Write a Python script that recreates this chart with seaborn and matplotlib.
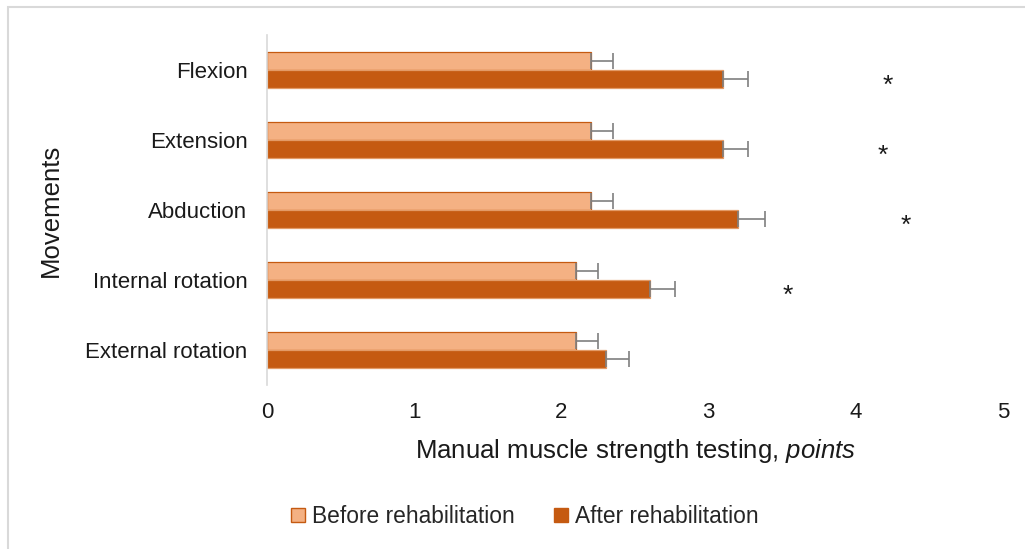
import numpy as np
import pandas as pd
import seaborn as sns
import matplotlib.pyplot as plt
from matplotlib.patches import Rectangle, Patch

# Movement categories and group labels
movements = ["Flexion", "Extension", "Abduction", "Internal rotation", "External rotation"]
groups = ["Before rehabilitation", "After rehabilitation"]

# Mean scores and standard deviations (points)
before_mean = [2.2, 2.2, 2.2, 2.1, 2.1]
before_sd = [0.15, 0.15, 0.15, 0.15, 0.15]
after_mean = [3.1, 3.1, 3.2, 2.6, 2.3]
after_sd = [0.17, 0.17, 0.18, 0.17, 0.16]

# Significance markers (x position in points, None = not significant)
star_x = [4.22, 4.18, 4.34, 3.54, None]

x_ticks = [0, 1, 2, 3, 4, 5]

sns.set_theme(style="white")
plt.rcParams["font.family"] = ["Liberation Sans", "DejaVu Sans"]
plt.rcParams["mathtext.fontset"] = "custom"
plt.rcParams["mathtext.rm"] = "Liberation Sans"
plt.rcParams["mathtext.it"] = "Liberation Sans:italic"

c_before = "#F4B183"
c_after = "#C55A11"
c_text = "#1a1a1a"

df = pd.DataFrame({
    "Movement": movements * 2,
    "Group": [groups[0]] * len(movements) + [groups[1]] * len(movements),
    "Score": before_mean + after_mean,
    "SD": before_sd + after_sd,
})

fig = plt.figure(figsize=(10.25, 5.49), dpi=100)
ax = fig.add_axes([0.2605, 0.2987, 0.718, 0.6375])

sns.barplot(data=df, y="Movement", x="Score", hue="Group", order=movements,
            hue_order=groups, palette=[c_before, c_after], orient="h",
            width=0.51, errorbar=None, ax=ax, legend=False, saturation=1)

# Outline styling and error bars, placed from the bar geometry
n = len(movements)
for i, bar in enumerate(ax.patches[:2 * n]):
    gi = i // n
    bar.set_edgecolor(c_after if gi == 0 else "#E39A66")
    bar.set_linewidth(0.9)
    yc = bar.get_y() + bar.get_height() / 2
    sd = df["SD"].iloc[i]
    ax.errorbar(bar.get_width(), yc, xerr=[[0], [sd]], fmt="none",
                ecolor="#7f7f7f", elinewidth=1.2, capsize=6, capthick=1.2)

# Significance asterisks beside the after-rehabilitation bars
for k, sx in enumerate(star_x):
    if sx is not None:
        ax.text(sx, k + 0.22, "*", ha="center", va="center", fontsize=19, color=c_text)

ax.set_xlim(0, 5)
ax.set_ylim(n - 0.5, -0.5)
ax.set_xticks(x_ticks)
ax.set_xticklabels([str(t) for t in x_ticks])
ax.tick_params(axis="both", length=0, labelsize=16, colors=c_text)
ax.tick_params(axis="x", pad=12)
ax.tick_params(axis="y", pad=14)

for s in ["top", "right", "bottom"]:
    ax.spines[s].set_visible(False)
ax.spines["left"].set_color("#d9d9d9")
ax.spines["left"].set_linewidth(1.2)

ax.set_xlabel("Manual muscle strength testing, $\\mathit{points}$", fontsize=18.5,
              color=c_text, labelpad=10)
ax.set_ylabel("Movements", fontsize=18.5, color=c_text)
ax.yaxis.set_label_coords(-0.277, 0.5)

handles = [Patch(facecolor=c_before, edgecolor=c_after, linewidth=1.0),
           Patch(facecolor=c_after, edgecolor=c_after, linewidth=1.0)]
fig.legend(handles, groups, loc="center", bbox_to_anchor=(0.512, 0.059), ncol=2,
           frameon=False, fontsize=16.4, handlelength=0.6, handleheight=0.6,
           handletextpad=0.3, columnspacing=1.75)

# Chart area frame
fig.patches.append(Rectangle((0.008, -0.05), 1.1, 1.037, transform=fig.transFigure,
                             fill=False, edgecolor="#d9d9d9", linewidth=1.5, zorder=0))

fig.savefig("out.png", dpi=100, facecolor="white")
